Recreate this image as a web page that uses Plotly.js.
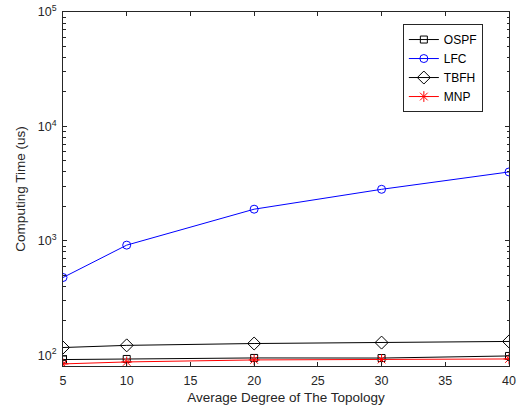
<!DOCTYPE html>
<html>
<head>
<meta charset="utf-8">
<script src="https://cdn.plot.ly/plotly-3.0.1.min.js"></script>
<style>
  html, body { margin: 0; padding: 0; background: #fff; }
  #chart { width: 526px; height: 412px; }
</style>
</head>
<body>
<div id="chart"></div>
<script>
// Average node degree of the topology
const degree = [5, 10, 20, 30, 40];

// Computing time (us) per scheme
const ospf = [91.7, 92.8, 94.7, 94.5, 98.6];
const lfc  = [478, 917, 1890, 2820, 4000];
const tbfh = [116.8, 122, 126.6, 129, 132];
const mnp  = [84, 87.4, 91, 91.7, 92.8];

const yTickVals = [100, 1000, 10000, 100000];
const yTickText = ['10<sup>2</sup>', '10<sup>3</sup>', '10<sup>4</sup>', '10<sup>5</sup>'];
const yMinorVals = [90,
  200, 300, 400, 500, 600, 700, 800, 900,
  2000, 3000, 4000, 5000, 6000, 7000, 8000, 9000,
  20000, 30000, 40000, 50000, 60000, 70000, 80000, 90000];
const xTickVals = [5, 10, 15, 20, 25, 30, 35, 40];

const FONT = 'Liberation Sans, Arial, Helvetica, sans-serif';

function series(name, y, color, symbol, size) {
  return {
    x: degree, y: y, name: name, type: 'scatter', mode: 'lines+markers',
    line: { color: color, width: 1 },
    marker: { symbol: symbol, size: size, color: color,
              line: { color: color, width: 1 } }
  };
}

const traces = [
  series('OSPF', ospf, '#000000', 'square-open', 7),
  series('LFC',  lfc,  '#0000ff', 'circle-open', 8),
  series('TBFH', tbfh, '#000000', 'diamond-open', 10),
  series('MNP',  mnp,  '#ff0000', 'asterisk-open', 9)
];

const axisCommon = {
  showline: true, linecolor: '#262626', linewidth: 1,
  mirror: 'ticks', ticks: 'inside', ticklen: 4, tickwidth: 1, tickcolor: '#262626',
  showgrid: false, zeroline: false,
  tickfont: { family: FONT, size: 12.5, color: '#262626' }
};

const layout = {
  width: 526, height: 412,
  margin: { l: 63, r: 17, t: 12, b: 46 },
  paper_bgcolor: '#ffffff', plot_bgcolor: '#ffffff',
  font: { family: FONT, color: '#262626' },
  showlegend: true,
  legend: {
    x: 0.762, y: 0.966, xanchor: 'left', yanchor: 'top',
    bgcolor: '#ffffff', bordercolor: '#262626', borderwidth: 1,
    font: { family: FONT, size: 12, color: '#000000' },
    tracegroupgap: 0
  },
  xaxis: Object.assign({}, axisCommon, {
    range: [5, 40], tickvals: xTickVals, ticktext: xTickVals.map(String),
    ticklabelstandoff: 3,
    title: { text: 'Average Degree of The Topology', font: { family: FONT, size: 13.5, color: '#262626' }, standoff: 5 }
  }),
  yaxis: Object.assign({}, axisCommon, {
    type: 'log', range: [1.906, 5],
    tickvals: yTickVals, ticktext: yTickText,
    ticklabelstandoff: 3,
    minor: { tickmode: 'array', tickvals: yMinorVals, ticks: 'inside', ticklen: 2.5,
             tickcolor: '#262626', showgrid: false },
    title: { text: 'Computing Time (us)', font: { family: FONT, size: 13.5, color: '#262626' }, standoff: 8 }
  })
};

Plotly.newPlot('chart', traces, layout, { displayModeBar: false, staticPlot: true });
</script>
</body>
</html>
